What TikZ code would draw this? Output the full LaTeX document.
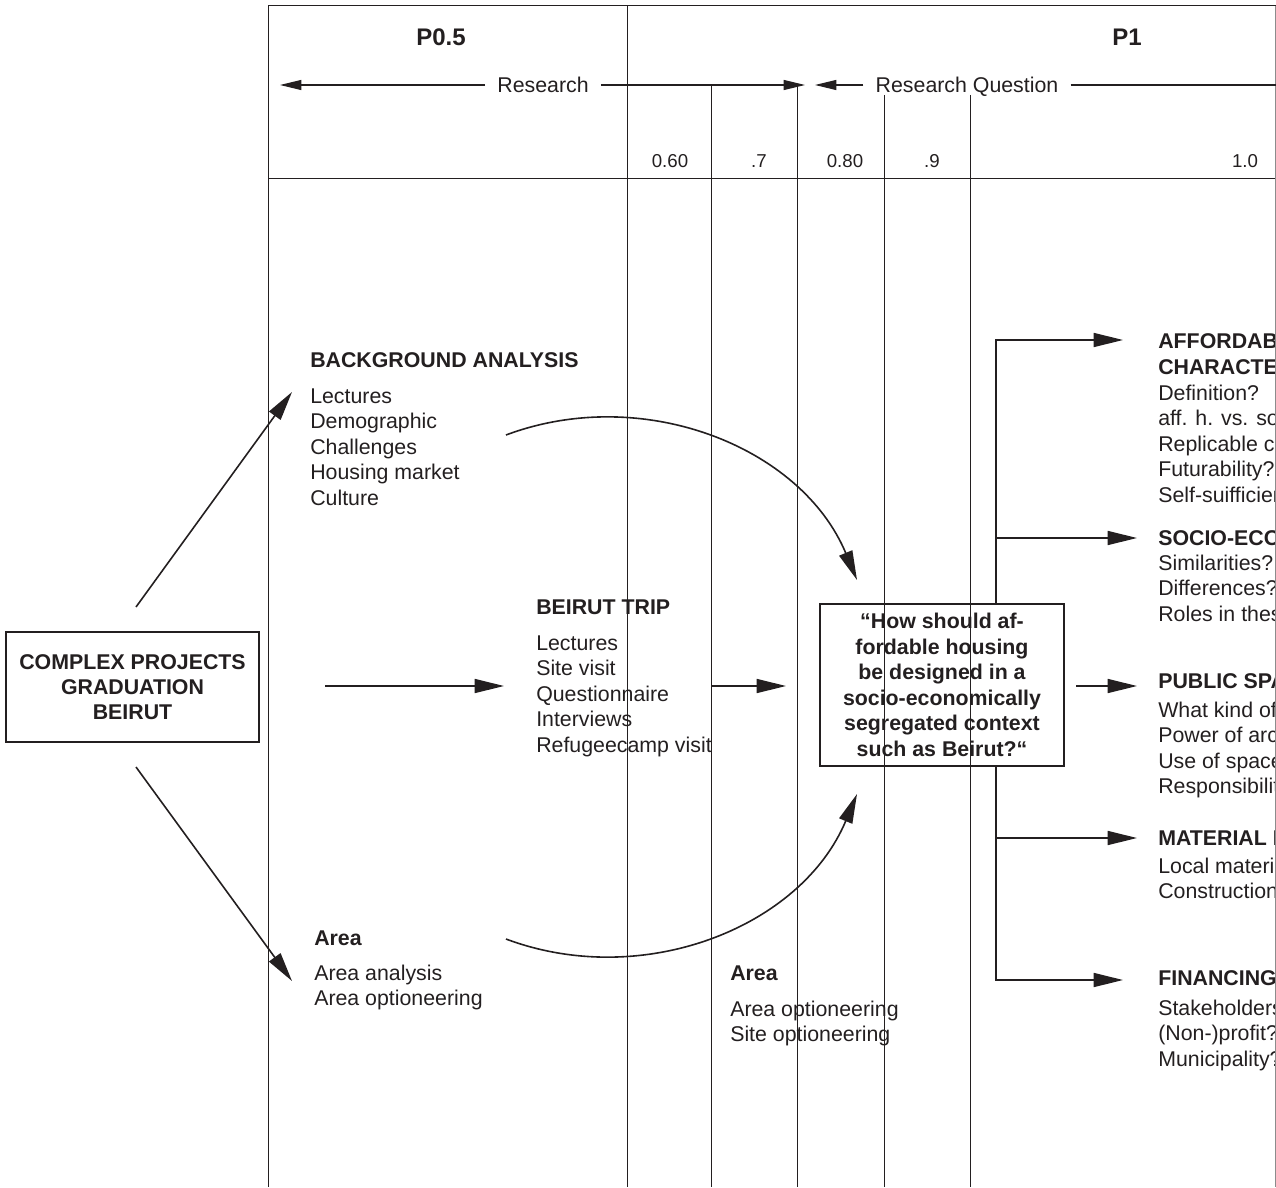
\documentclass[tikz,border=0pt]{standalone}
\usepackage{fontspec}
\setmainfont{Liberation Sans}
\usetikzlibrary{arrows.meta}
\definecolor{ink}{RGB}{35,31,32}

\begin{document}
\begin{tikzpicture}[x=0.75pt,y=-0.75pt,
  every node/.style={text=ink},
  grid/.style={line width=0.75pt, draw=ink},
  conn/.style={line width=1.2pt, draw=ink, -{Triangle[length=22pt,width=10.5pt]}},
  hdarrow/.style={line width=0.8pt, draw=ink, -{Triangle[length=16pt,width=7.5pt]}},
  % multi-line blocks are anchored at the baseline of their last line
  body/.style={inner sep=0pt, anchor=base west, align=left, font=\fontsize{16}{19.2}\selectfont},
  head/.style={inner sep=0pt, anchor=base west, align=left, font=\bfseries\fontsize{16}{19.5}\selectfont},
  box/.style={draw=ink, line width=0.9pt, align=center, inner sep=0pt, font=\bfseries\fontsize{16}{19}\selectfont},
  num/.style={inner sep=0pt, anchor=base, font=\fontsize{14}{16}\selectfont},
  phase/.style={inner sep=0pt, anchor=base, font=\bfseries\fontsize{18}{20}\selectfont},
  span/.style={inner xsep=9pt, inner ysep=0pt, anchor=base, font=\fontsize{16}{19}\selectfont},
]
\useasboundingbox (0,0) rectangle (1276,1187);

% ---------- time grid ----------
\draw[grid] (268,6) -- (1276,6);
\draw[grid] (268,179) -- (1276,179);
\draw[grid] (268,6) -- (268,1187);
\draw[grid] (627,6) -- (627,1187);
\draw[grid] (711,85) -- (711,1187);
\draw[grid] (797,85) -- (797,1187);
\draw[grid] (884,95) -- (884,1187);
\draw[grid] (970,95) -- (970,1187);
\draw[line width=0.75pt, draw=black!45] (1275,6) -- (1275,1187);

% ---------- header ----------
\node[phase] (p05) at (441,46) {P0.5};
\node[phase] (p1) at (1127,46) {P1};

\coordinate (resL) at (280,85);
\coordinate (resR) at (805,85);
\node[span] (research) at (543,93) {Research};
\draw[hdarrow] (research.west |- resL) -- (resL);
\draw[hdarrow] (research.east |- resL) -- (resR);

\coordinate (rqL) at (815,85);
\coordinate (rqR) at (1276,85);
\node[span] (rq) at (967,93) {Research Question};
\draw[hdarrow] (rq.west |- rqL) -- (rqL);
\draw[line width=0.8pt, draw=ink] (rq.east |- rqR) -- (rqR);

\node[num] (n060) at (670,168) {0.60};
\node[num] (n07) at (759,168) {.7};
\node[num] (n080) at (845,168) {0.80};
\node[num] (n09) at (932,168) {.9};
\node[num] (n10) at (1245,168) {1.0};

% ---------- start ----------
\node[box, minimum width=189.75pt, minimum height=82.5pt] (cpg) at (132.5,687)
  {COMPLEX PROJECTS\\GRADUATION\\BEIRUT};

\coordinate (upS) at (136,607);  \coordinate (upE) at (292,392);
\coordinate (dnS) at (136,767);  \coordinate (dnE) at (292,981);
\coordinate (midS) at (325,686); \coordinate (midE) at (504,686);
\draw[conn] (upS) -- (upE);
\draw[conn] (dnS) -- (dnE);
\draw[conn] (midS) -- (midE);

% ---------- research blocks ----------
\node[head] (bgh) at (310,367) {BACKGROUND ANALYSIS};
\node[body] (bgb) at (310,505.4) {Lectures\\Demographic\\Challenges\\Housing market\\Culture};

\node[head] (trh) at (536,614) {BEIRUT TRIP};
\node[body] (trb) at (536,752.4) {Lectures\\Site visit\\Questionnaire\\Interviews\\Refugeecamp visit};

\node[head] (arh) at (314,945) {Area};
\node[body] (arb) at (314,1005.6) {Area analysis\\Area optioneering};

\node[head] (ar2h) at (730,980) {Area};
\node[body] (ar2b) at (730,1041.6) {Area optioneering\\Site optioneering};

% ---------- research question ----------
\node[box, minimum width=183pt, minimum height=121.5pt,
      font=\bfseries\fontsize{16}{19.1}\selectfont] (q) at (942,685)
  {“How should af-\\fordable housing\\be designed in a\\socio-economically\\segregated context\\such as Beirut?“};

\coordinate (bgS) at (506,435);  \coordinate (bgE) at (857,580);
\coordinate (arS) at (506,939);  \coordinate (arE) at (857,794);
\draw[conn] (bgS) .. controls (642,384) and (801,446) .. (bgE);
\draw[conn] (arS) .. controls (642,990) and (801,928) .. (arE);

\coordinate (trS) at (711,686); \coordinate (trE) at (786,686);
\draw[conn] (trS) -- (trE);

% ---------- themes ----------
\coordinate (brTop) at (996,340);
\coordinate (brBot) at (996,980);
\coordinate (t1) at (1123,340);
\coordinate (b2) at (996,538);  \coordinate (t2) at (1137,538);
\coordinate (qR) at (1076,686); \coordinate (t3) at (1137,686);
\coordinate (b4) at (996,838);  \coordinate (t4) at (1137,838);
\coordinate (t5) at (1123,980);
\draw[conn] (q.north -| brTop) -- (brTop) -- (t1);
\draw[conn] (b2) -- (t2);
\draw[conn] (qR) -- (t3);
\draw[conn] (b4) -- (t4);
\draw[conn] (q.south -| brBot) -- (brBot) -- (t5);

\begin{scope}
  \clip (1140,300) rectangle (1274.5,1100);
  \node[head] (th1) at (1158,374) {AFFORDABLE HOUSING\\CHARACTERISTICS};
  \node[body] (tb1) at (1158,502.4) {Definition?\\aff. h. vs. social housing?\\Replicable concept?\\Futurability?\\Self-suifficiency?};
  \node[head] (th2) at (1158,545) {SOCIO-ECONOMIC SEGREGATION};
  \node[body] (tb2) at (1158,621.2) {Similarities?\\Differences?\\Roles in these?};
  \node[head] (th3) at (1158,688) {PUBLIC SPACE};
  \node[body] (tb3) at (1158,793.8) {What kind of space?\\Power of architecture?\\Use of space?\\Responsibility?};
  \node[head] (th4) at (1158,845) {MATERIAL IMPLEMENTATION};
  \node[body] (tb4) at (1158,898.6) {Local materials?\\Construction methods?};
  \node[head] (th5) at (1158,985) {FINANCING};
  \node[body] (tb5) at (1158,1066.2) {Stakeholders?\\(Non-)profit?\\Municipality?};
\end{scope}
\end{tikzpicture}
\end{document}
